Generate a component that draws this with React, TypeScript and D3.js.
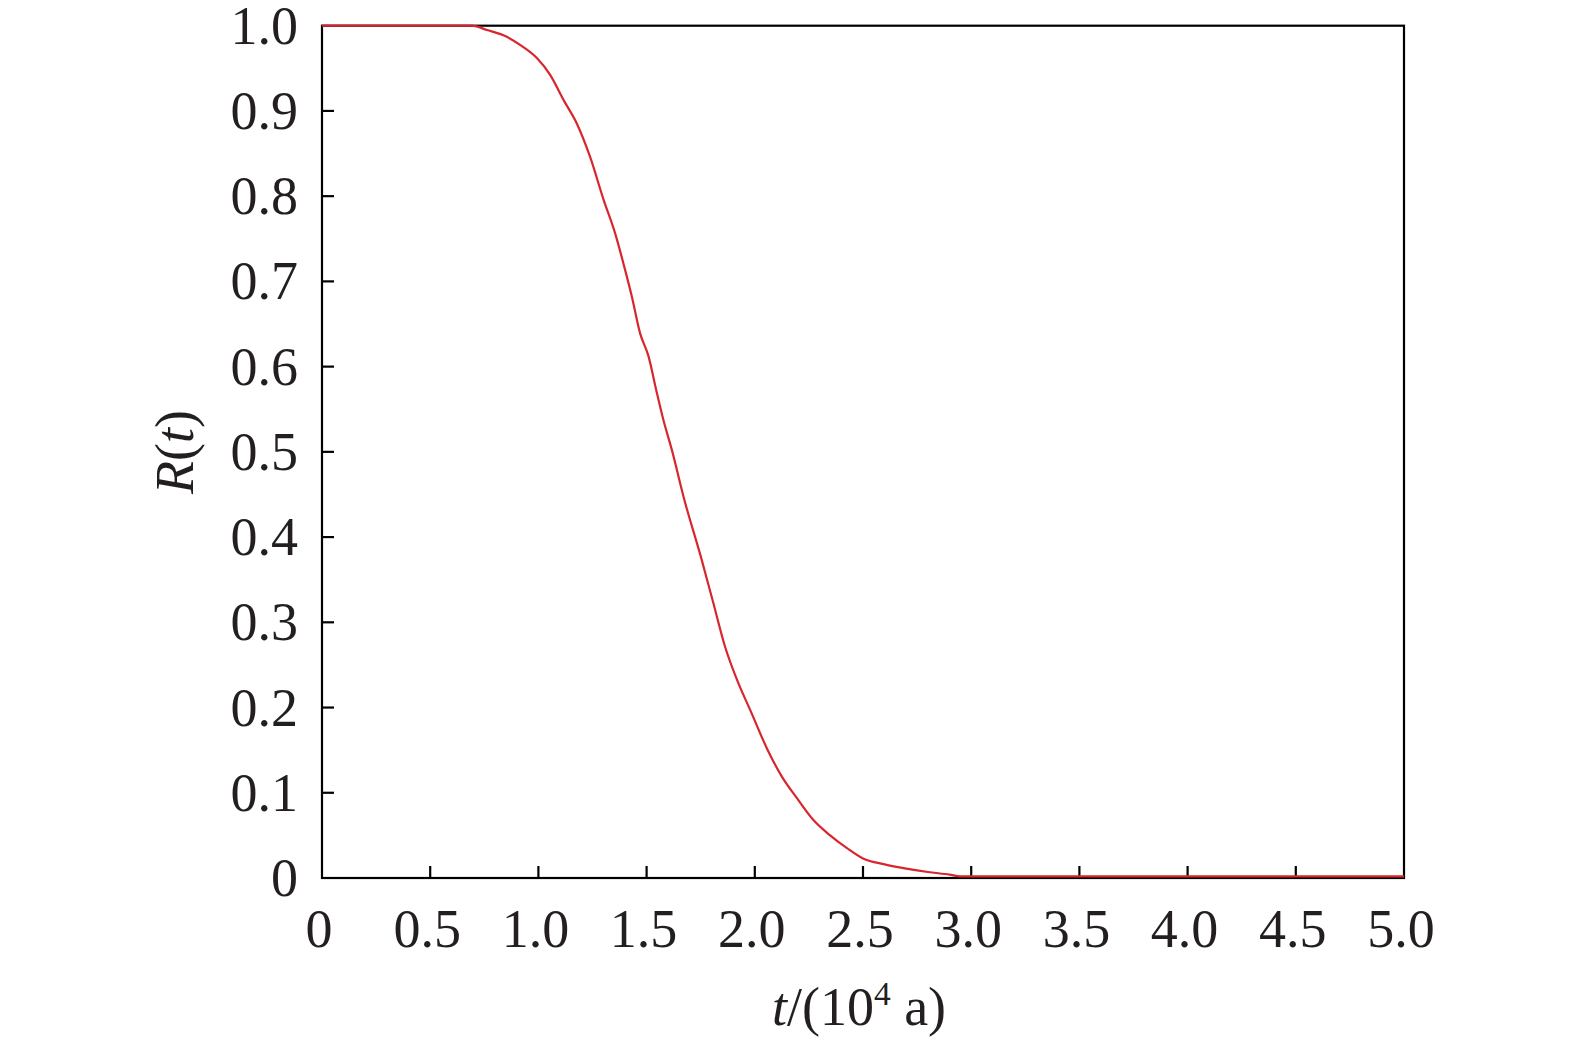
import React from "react";
import * as d3 from "d3";

const tValues = [0, 0.693, 0.762, 0.854, 0.924, 0.993, 1.055, 1.116, 1.178, 1.239, 1.301, 1.355, 1.397, 1.432, 1.47, 1.509, 1.544, 1.578, 1.617, 1.671, 1.755, 1.809, 1.863, 1.925, 1.979, 2.056, 2.125, 2.194, 2.271, 2.348, 2.426, 2.5, 2.6, 2.7, 2.8, 2.9, 2.95, 3.0, 5.0];
const rValues = [1.0, 1.0, 0.995, 0.987, 0.976, 0.962, 0.942, 0.913, 0.885, 0.846, 0.796, 0.756, 0.717, 0.682, 0.639, 0.612, 0.573, 0.537, 0.502, 0.447, 0.373, 0.322, 0.271, 0.228, 0.197, 0.152, 0.119, 0.094, 0.068, 0.05, 0.035, 0.023, 0.016, 0.011, 0.007, 0.004, 0.002, 0.002, 0.002];
const xTicks = [0, 0.5, 1.0, 1.5, 2.0, 2.5, 3.0, 3.5, 4.0, 4.5, 5.0];
const xTickLabels = ["0", "0.5", "1.0", "1.5", "2.0", "2.5", "3.0", "3.5", "4.0", "4.5", "5.0"];
const yTicks = [0, 0.1, 0.2, 0.3, 0.4, 0.5, 0.6, 0.7, 0.8, 0.9, 1.0];
const yTickLabels = ["0", "0.1", "0.2", "0.3", "0.4", "0.5", "0.6", "0.7", "0.8", "0.9", "1.0"];

export default function App() {
  const W = 1575, H = 1042;
  const left = 322, right = 1404, top = 25.7, bottom = 878;
  const x = d3.scaleLinear().domain([0, 5]).range([left, right]);
  const y = d3.scaleLinear().domain([0, 1]).range([bottom, top]);
  const data = tValues.map((t, i) => [t, rValues[i]] as [number, number]);
  const line = d3.line<[number, number]>().x(d => x(d[0])).y(d => y(d[1])).curve(d3.curveMonotoneX);
  const font = "'Liberation Serif', 'Times New Roman', serif";
  const fs = 54;
  return (
    <svg width={W} height={H} style={{ position: "absolute", left: 0, top: 0, background: "#fff" }} fontFamily={font}>
      <rect x={0} y={0} width={W} height={H} fill="#fff" />
      <rect x={left} y={top} width={right - left} height={bottom - top} fill="none" stroke="#000" strokeWidth={2.2} />
      {xTicks.map((t, i) => (
        <g key={"x" + i}>
          {i > 0 && i < xTicks.length - 1 && (
            <line x1={x(t)} x2={x(t)} y1={bottom} y2={bottom - 12} stroke="#000" strokeWidth={2.2} />
          )}
          <text x={x(t) - 3} y={947} fontSize={fs} textAnchor="middle" fill="#231f20">{xTickLabels[i]}</text>
        </g>
      ))}
      {yTicks.map((v, i) => (
        <g key={"y" + i}>
          {i > 0 && i < yTicks.length - 1 && (
            <line x1={left} x2={left + 12} y1={y(v)} y2={y(v)} stroke="#000" strokeWidth={2.2} />
          )}
          <text x={298} y={y(v) + 18} fontSize={fs} textAnchor="end" fill="#231f20">{yTickLabels[i]}</text>
        </g>
      ))}
      <path d={line(data) || ""} fill="none" stroke="#d7262e" strokeWidth={2.2} />
      <text x={859} y={1025} fontSize={fs} textAnchor="middle" fill="#231f20">
        <tspan fontStyle="italic">t</tspan>/(10
        <tspan fontSize={fs * 0.62} dy={-20}>4</tspan>
        <tspan dy={20}> a)</tspan>
      </text>
      <text transform="translate(193,452) rotate(-90)" fontSize={fs} textAnchor="middle" fill="#231f20">
        <tspan fontStyle="italic">R</tspan>(<tspan fontStyle="italic">t</tspan>)
      </text>
    </svg>
  );
}
